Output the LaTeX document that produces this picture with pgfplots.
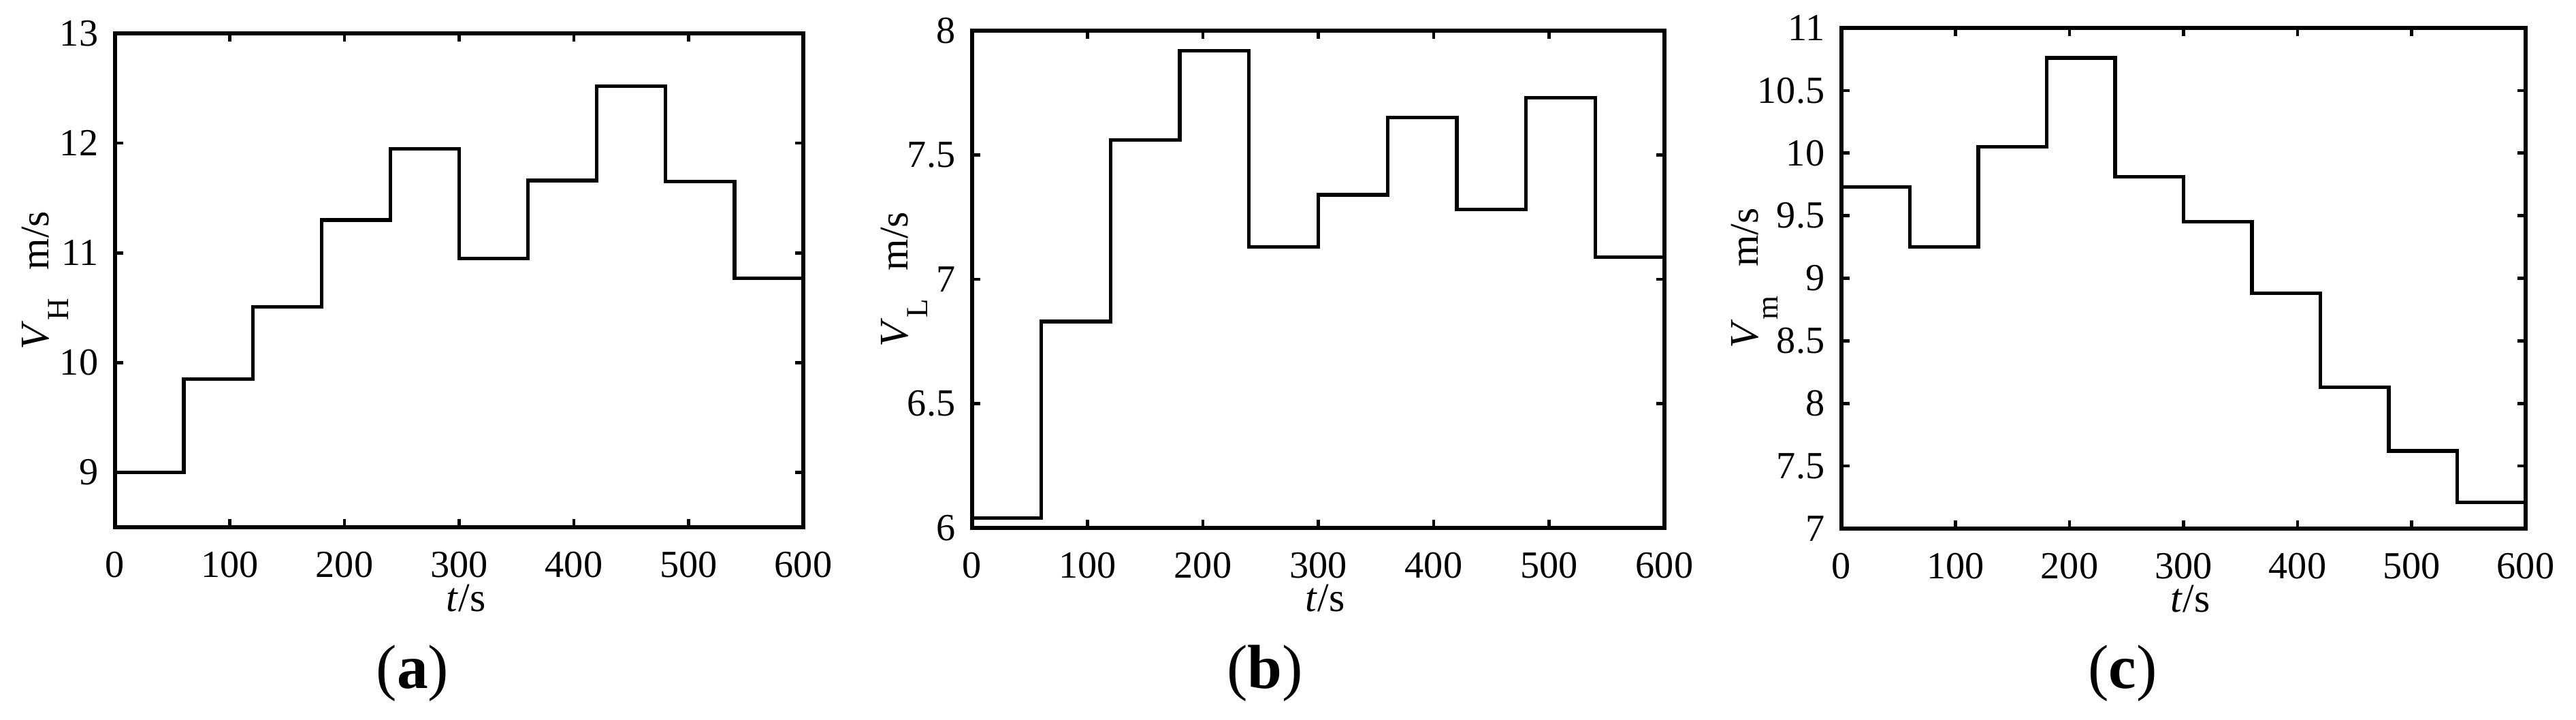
\documentclass[border=0pt]{standalone}
\usepackage{fontspec}
\setmainfont{Liberation Serif}
\usepackage{pgfplots}
\pgfplotsset{compat=1.18}

\pgfplotsset{
  refstyle/.style={
    scale only axis,
    anchor=south west,
    xmin=0, xmax=600,
    xtick={0,100,...,600},
    enlargelimits=false,
    axis line style={line width=0.8pt, black},
    every tick/.style={line width=0.65pt, black},
    major tick length=0.06cm,
    tick align=inside,
    tick pos=both,
    ticklabel pos=left,
    /pgf/number format/assume math mode=true,
    tick label style={font=\fontsize{8}{9.6}\selectfont},
    xticklabel style={inner sep=0pt, yshift=-0.175cm},
    label style={font=\fontsize{8.5}{10}\selectfont},
    xlabel={\textit{t}/s},
    clip=false,
  },
  stepline/.style={const plot, black, line width=0.75pt, line join=miter, mark=none},
}

\newcommand{\ylab}[1]{\textit{V}\raisebox{-4.2pt}{\fontsize{6.4}{7}\selectfont #1}\hspace{6pt}m/s}

\begin{document}
\begin{tikzpicture}
\useasboundingbox (0,0) rectangle (18.92cm,5.28cm);

% (a)
\begin{axis}[refstyle,
  at={(0.845cm,1.41cm)}, width=5.055cm, height=3.625cm,
  ymin=8.5, ymax=13, ytick={9,10,11,12,13},
  ylabel={\ylab{H}},
  ylabel style={at={(axis description cs:-0.0969,0.5)}, anchor=base, rotate=0},
  xlabel style={at={(axis description cs:0.51,-0.1697)}, anchor=base, inner sep=0pt},
]
\addplot[stepline] coordinates {
 (0,9.00) (60,9.85) (120,10.51) (180,11.30) (240,11.95) (300,10.95)
 (360,11.66) (420,12.52) (480,11.65) (540,10.77) (600,10.77)
};
\end{axis}

% (b)
\begin{axis}[refstyle,
  at={(7.14cm,1.405cm)}, width=5.085cm, height=3.65cm,
  ymin=6, ymax=8, ytick={6,6.5,7,7.5,8},
  ylabel={\ylab{L}},
  ylabel style={at={(axis description cs:-0.0934,0.5)}, anchor=base, rotate=0},
  xlabel style={at={(axis description cs:0.51,-0.168)}, anchor=base, inner sep=0pt},
]
\addplot[stepline] coordinates {
 (0,6.04) (60,6.83) (120,7.56) (180,7.92) (240,7.13) (300,7.34)
 (360,7.65) (420,7.28) (480,7.73) (540,7.09) (600,7.09)
};
\end{axis}

% (c)
\begin{axis}[refstyle,
  at={(13.525cm,1.4cm)}, width=5.025cm, height=3.675cm,
  ymin=7, ymax=11, ytick={7,7.5,8,8.5,9,9.5,10,10.5,11},
  ylabel={\ylab{m}},
  ylabel style={at={(axis description cs:-0.1224,0.5)}, anchor=base, rotate=0},
  xlabel style={at={(axis description cs:0.51,-0.167)}, anchor=base, inner sep=0pt},
]
\addplot[stepline] coordinates {
 (0,9.73) (60,9.25) (120,10.05) (180,10.76) (240,9.81) (300,9.45)
 (360,8.88) (420,8.13) (480,7.62) (540,7.21) (600,7.21)
};
\end{axis}

\node[anchor=base, font=\fontsize{13}{15}\selectfont] at (3.03cm,0.23cm) {(\textbf{a})};
\node[anchor=base, font=\fontsize{13}{15}\selectfont] at (9.29cm,0.23cm) {(\textbf{b})};
\node[anchor=base, font=\fontsize{13}{15}\selectfont] at (15.59cm,0.23cm) {(\textbf{c})};
\end{tikzpicture}
\end{document}
